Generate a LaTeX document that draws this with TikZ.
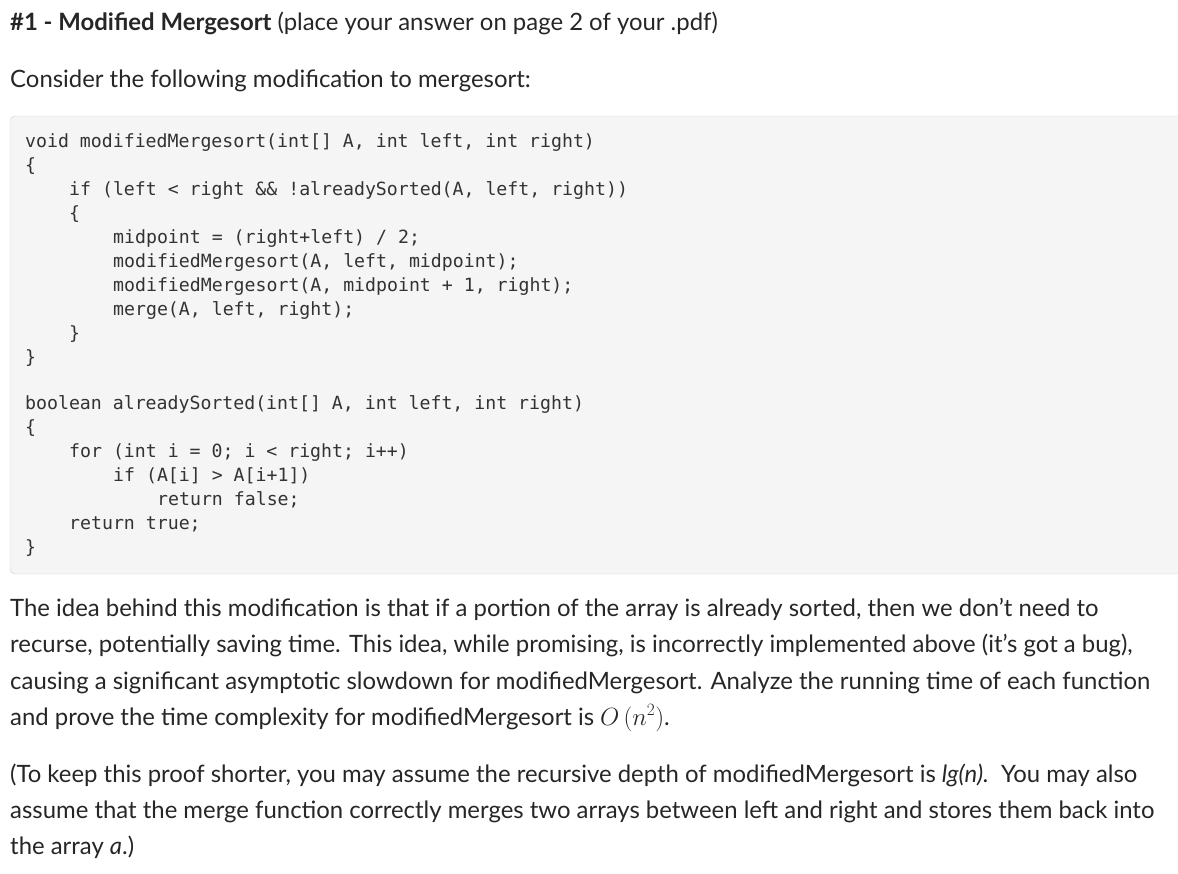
\documentclass[tikz,border=0pt]{standalone}
\usepackage{fontspec}
\setmainfont{Lato}
\newfontfamily\codefont{DejaVu Sans Mono}
\begin{document}
\begin{tikzpicture}[x=1pt,y=-1pt,
  txt/.style={anchor=base west,inner sep=0pt,font=\fontsize{23.9}{28}\selectfont,text=black!85},
  code/.style={anchor=base west,inner sep=0pt,font=\codefont\fontsize{18.2}{20}\selectfont,text=black!80}]
\useasboundingbox (0,0) rectangle (1178,873);
\node[txt] (title) at (10,30) {\textbf{\#1 - Modified Mergesort} (place your answer on page 2 of your .pdf)};
\node[txt] (consider) at (10,87) {Consider the following modification to mergesort:};
\draw[draw=black!18,fill=black!4,rounded corners=5] (10,116) rectangle (1190,574);
\foreach \x/\y/\t in {
 25/147/{void modifiedMergesort(int[] A, int left, int right)},
 25/171/{\{},
 69/195/{if (left < right \&\& !alreadySorted(A, left, right))},
 69/219/{\{},
 113/243/{midpoint = (right+left) / 2;},
 113/267/{modifiedMergesort(A, left, midpoint);},
 113/291/{modifiedMergesort(A, midpoint + 1, right);},
 113/315/{merge(A, left, right);},
 69/339/{\}},
 25/363/{\}},
 25/409/{boolean alreadySorted(int[] A, int left, int right)},
 25/433/{\{},
 69/457/{for (int i = 0; i < right; i++)},
 113/481/{if (A[i] > A[i+1])},
 157/505/{return false;},
 69/529/{return true;},
 25/553/{\}}}
 \node[code] at (\x,\y) {\t};
\node[txt] (p1) at (10,616) {The idea behind this modification is that if a portion of the array is already sorted, then we don’t need to};
\node[txt] (p2) at (10,652) {recurse, potentially saving time. This idea, while promising, is incorrectly implemented above (it\char"27 s got a bug),};
\node[txt] (p3) at (10,689) {causing a significant asymptotic slowdown for modifiedMergesort. Analyze the running time of each function};
\node[txt] (p4) at (10,725) {and prove the time complexity for modifiedMergesort is $O\,\Bigl(n^2\Bigr)$.};
\node[txt] (q1) at (10,782) {(To keep this proof shorter, you may assume the recursive depth of modifiedMergesort is \textit{lg(n).}\, You may also};
\node[txt] (q2) at (10,818) {assume that the merge function correctly merges two arrays between left and right and stores them back into};
\node[txt] (q3) at (10,854) {the array \textit{a}.)};
\end{tikzpicture}
\end{document}
